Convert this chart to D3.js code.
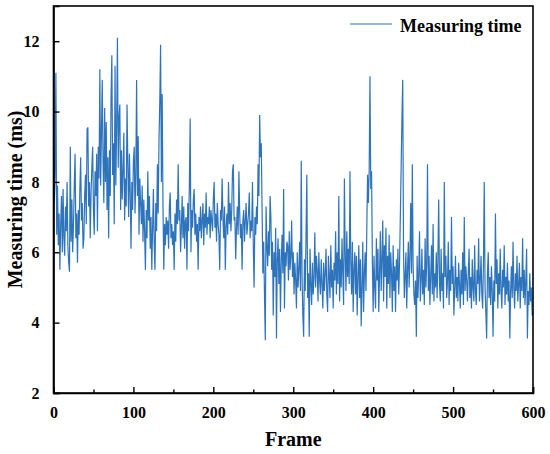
<!DOCTYPE html>
<html>
<head>
<meta charset="utf-8">
<script src="https://cdn.jsdelivr.net/npm/d3@7"></script>
<style>
  body { margin: 0; background: #fff; }
  text { font-family: "Liberation Serif", "Times New Roman", serif; font-weight: bold; }
</style>
</head>
<body>
<div id="chart"></div>
<script>
const width = 550;
const height = 454;
const margin = { top: 6, right: 17, bottom: 61, left: 53.5 };

// Measuring time (ms) per frame, 100 frames per block
const block0 = [
  9.0, 7.4, 8.2, 11.1, 6.5, 7.9, 6.2, 7.1, 5.5, 6.8,
  7.6, 6.0, 7.8, 6.4, 5.9, 7.3, 6.6, 8.0, 6.2, 5.7,
  5.45, 9.0, 6.3, 7.5, 6.0, 6.8, 7.9, 8.8, 6.4, 7.1,
  5.7, 7.2, 6.5, 7.8, 8.7, 6.9, 7.4, 6.1, 6.4, 7.6,
  8.2, 6.8, 9.5, 9.55, 7.3, 8.0, 6.4, 7.7, 8.4, 9.0,
  7.2, 6.5, 8.3, 7.6, 8.8, 6.6, 9.0, 8.1, 11.2, 7.9,
  9.4, 10.9, 8.6, 7.4, 10.1, 8.0, 9.7, 7.2, 8.7, 6.4,
  8.9, 7.6, 10.4, 11.6, 8.2, 9.1, 6.8, 11.3, 7.9, 9.6,
  12.1, 8.4, 9.8, 10.2, 7.2, 8.9, 7.5, 8.3, 9.4, 6.9,
  8.1, 7.3, 10.2, 8.5, 7.0, 8.8, 7.7, 6.1, 8.0, 7.2
];
const block1 = [
  8.6, 9.0, 7.1, 8.2, 10.9, 7.6, 9.3, 6.5, 8.1, 7.4,
  6.8, 7.9, 6.3, 7.5, 6.6, 5.5, 7.2, 6.4, 8.3, 6.9,
  7.6, 6.1, 7.0, 5.5, 6.7, 7.8, 6.2, 5.5, 7.4, 6.6,
  8.5, 7.1, 9.2, 10.3, 11.9, 8.0, 10.5, 7.3, 5.5, 6.8,
  6.2, 7.0, 6.5, 6.9, 6.1, 7.3, 7.7, 6.4, 6.8, 6.2,
  6.6, 5.5, 7.1, 6.3, 7.5, 6.8, 8.5, 6.9, 7.2, 6.0,
  6.7, 7.6, 6.4, 7.3, 6.1, 6.9, 7.0, 5.5, 7.4, 6.6,
  7.9, 9.8, 6.0, 7.2, 6.7, 7.5, 7.8, 6.5, 7.1, 6.3,
  6.8, 5.5, 7.0, 6.6, 7.3, 6.4, 6.9, 7.4, 6.2, 7.1,
  6.7, 7.7, 6.5, 7.0, 6.8, 7.3, 6.4, 7.2, 6.9, 6.6
];
const block2 = [
  7.5, 8.0, 6.7, 7.1, 6.3, 7.4, 6.8, 6.5, 5.5, 7.2,
  6.9, 8.1, 7.0, 6.4, 7.3, 5.5, 6.7, 7.1, 6.5, 8.0,
  6.8, 7.4, 6.6, 7.2, 8.3, 8.5, 6.9, 7.0, 5.8, 6.7,
  7.3, 6.5, 8.3, 7.1, 6.4, 6.8, 5.5, 6.9, 7.2, 6.3,
  6.9, 7.4, 6.5, 6.8, 7.1, 7.7, 6.4, 6.9, 6.6, 8.0,
  6.2, 5.0, 7.0, 6.5, 7.3, 6.8, 8.5, 7.6, 9.9, 8.7,
  9.1, 7.2, 5.4, 6.3, 4.8, 3.5, 7.3, 6.2, 5.6, 6.6,
  5.9, 7.6, 7.0, 5.5, 6.3, 4.2, 6.0, 5.3, 6.7, 3.55,
  5.8, 6.4, 5.1, 6.1, 4.3, 5.7, 6.5, 5.4, 7.8, 4.4,
  6.0, 5.6, 6.3, 6.2, 5.2, 6.6, 5.5, 5.9, 6.9, 5.3
];
const block3 = [
  6.0, 4.8, 5.7, 5.2, 4.4, 6.0, 5.0, 5.5, 6.3, 4.9,
  8.6, 5.3, 4.2, 3.6, 5.8, 4.9, 6.5, 8.2, 4.7, 5.4,
  3.6, 6.1, 5.1, 4.5, 5.7, 4.8, 5.3, 6.56, 5.0, 5.9,
  5.5, 4.6, 6.0, 5.2, 4.8, 5.8, 5.1, 4.4, 5.7, 4.9,
  5.4, 6.1, 4.8, 4.3, 5.9, 5.3, 4.7, 6.2, 5.0, 5.5,
  4.4, 5.7, 5.2, 6.6, 4.8, 6.0, 5.1, 7.6, 4.6, 5.8,
  5.0, 6.4, 5.4, 4.5, 8.1, 5.9, 4.9, 6.6, 5.3, 6.1,
  5.1, 8.3, 5.7, 4.8, 6.3, 4.3, 5.5, 6.0, 4.8, 5.9,
  4.2, 5.3, 6.2, 4.7, 5.8, 3.9, 5.0, 6.3, 4.3, 5.4,
  6.0, 4.9, 6.6, 8.2, 7.4, 8.3, 11.0, 7.8, 8.3, 5.7
];
const block4 = [
  4.3, 5.9, 5.0, 4.4, 6.4, 5.2, 6.1, 4.3, 5.4, 6.6,
  4.9, 5.8, 6.9, 4.6, 6.2, 5.3, 6.7, 4.4, 5.9, 5.1,
  6.5, 4.7, 6.0, 5.4, 4.3, 6.2, 4.9, 5.6, 4.3, 5.8,
  5.2, 6.1, 4.8, 5.7, 7.0, 8.4, 9.8, 10.9, 6.0, 4.7,
  5.3, 6.0, 4.4, 5.5, 6.3, 5.0, 5.9, 7.4, 5.4, 8.5,
  5.6, 4.8, 4.5, 5.2, 3.6, 5.9, 4.7, 5.4, 6.6, 4.6,
  5.2, 6.1, 4.8, 5.5, 4.5, 6.4, 5.0, 5.7, 8.5, 4.9,
  5.9, 4.5, 5.3, 6.2, 4.8, 6.8, 4.6, 5.4, 5.0, 6.0,
  4.7, 5.8, 7.5, 5.1, 4.6, 6.1, 4.9, 5.4, 4.4, 8.0,
  5.3, 5.9, 4.7, 5.2, 6.3, 4.5, 5.5, 4.9, 7.0, 5.1
];
const block5 = [
  5.6, 4.2, 5.0, 5.9, 4.7, 5.3, 4.6, 5.7, 5.1, 4.4,
  5.5, 4.8, 6.0, 4.5, 7.0, 4.9, 5.6, 5.2, 4.6, 5.4,
  6.1, 4.7, 5.3, 4.4, 5.8, 5.0, 4.6, 6.2, 4.9, 4.5,
  5.5, 5.1, 6.4, 4.6, 5.2, 5.9, 4.8, 4.4, 5.7, 8.0,
  5.0, 4.3, 3.55, 5.4, 6.0, 4.7, 5.3, 4.5, 5.6, 4.9,
  3.6, 5.2, 4.6, 7.1, 5.1, 5.8, 4.4, 5.4, 4.8, 6.1,
  4.9, 4.4, 5.5, 5.0, 6.2, 4.5, 5.3, 4.8, 5.7, 4.6,
  5.2, 3.55, 4.9, 5.6, 4.7, 6.3, 5.0, 4.4, 5.4, 4.9,
  5.9, 4.6, 5.1, 5.7, 4.4, 5.3, 4.9, 6.4, 4.7, 5.5,
  4.5, 5.2, 6.1, 3.55, 4.9, 4.5, 5.4, 4.6, 5.0, 4.2,
  4.3
];
const measuringTime = [].concat(block0, block1, block2, block3, block4, block5);

const xTicks = [0, 100, 200, 300, 400, 500, 600];
const xMinorTicks = [50, 150, 250, 350, 450, 550];
const yTicks = [2, 4, 6, 8, 10, 12];

const svg = d3.select("#chart").append("svg")
  .attr("width", width)
  .attr("height", height);

const x = d3.scaleLinear()
  .domain([0, 600])
  .range([margin.left, width - margin.right]);

const y = d3.scaleLinear()
  .domain([2, 13])
  .range([height - margin.bottom, margin.top]);

// Series line
const line = d3.line()
  .x((d, i) => x(i))
  .y(d => y(d));

svg.append("path")
  .datum(measuringTime)
  .attr("fill", "none")
  .attr("stroke", "#2e74bd")
  .attr("stroke-width", 1.2)
  .attr("d", line);

// Frame box
svg.append("rect")
  .attr("x", x(0))
  .attr("y", y(13))
  .attr("width", x(600) - x(0))
  .attr("height", y(2) - y(13))
  .attr("fill", "none")
  .attr("stroke", "#000")
  .attr("stroke-width", 1.6);

// Axes with inward ticks
svg.append("g")
  .attr("transform", `translate(0,${y(2)})`)
  .call(d3.axisBottom(x).tickValues(xTicks).tickSize(-6).tickPadding(14).tickFormat(d3.format("d")));

svg.append("g")
  .attr("transform", `translate(0,${y(2)})`)
  .call(d3.axisBottom(x).tickValues(xMinorTicks).tickSize(-3.5).tickFormat(""))
  .call(g => g.select(".domain").remove());

svg.append("g")
  .attr("transform", `translate(${x(0)},0)`)
  .call(d3.axisLeft(y).tickValues(yTicks).tickSize(-6).tickPadding(14));

svg.selectAll(".tick line").attr("stroke", "#000").attr("stroke-width", 1.4);
svg.selectAll(".domain").attr("stroke", "#000").attr("stroke-width", 1.6);
svg.selectAll(".tick text")
  .attr("fill", "#000")
  .style("font-size", "16px")
  .style("font-family", "'Liberation Serif', serif")
  .style("font-weight", "bold");

// Axis titles
svg.append("text")
  .attr("x", (x(0) + x(600)) / 2)
  .attr("y", 446)
  .attr("text-anchor", "middle")
  .style("font-size", "20px")
  .text("Frame");

svg.append("text")
  .attr("transform", `translate(22,${(y(2) + y(13)) / 2}) rotate(-90)`)
  .attr("text-anchor", "middle")
  .style("font-size", "20px")
  .text("Measuring time (ms)");

// Legend
svg.append("line")
  .attr("x1", 350).attr("x2", 392)
  .attr("y1", 24).attr("y2", 24)
  .attr("stroke", "#2e74bd")
  .attr("stroke-width", 1.2);

svg.append("text")
  .attr("x", 400)
  .attr("y", 32)
  .style("font-size", "18px")
  .text("Measuring time");
</script>
</body>
</html>
